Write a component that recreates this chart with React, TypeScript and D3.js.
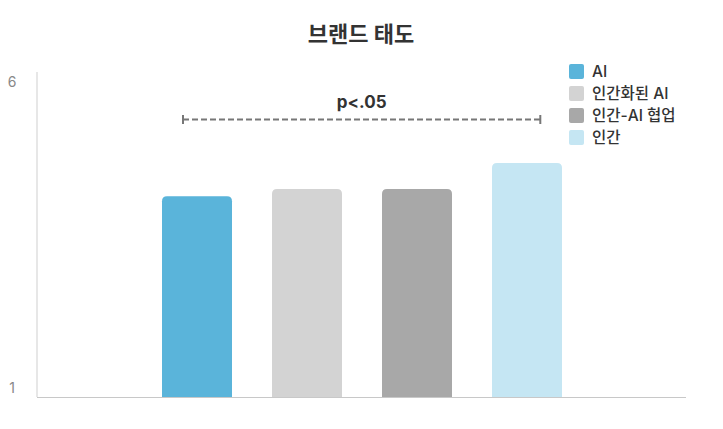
import React, { useEffect, useRef } from 'react';
import * as d3 from 'd3';

const categories = ['AI', '인간화된 AI', '인간-AI 협업', '인간'];
const values = [4.09, 4.2, 4.2, 4.6];
const colors = ['#5ab4da', '#d3d3d3', '#a8a8a8', '#c5e6f3'];
const yTicks = [1, 6];
const title = '브랜드 태도';
const sigLabel = 'p<.05';

const FONT = "Inter, 'Noto Sans CJK KR', 'Noto Sans', sans-serif";

const App: React.FC = () => {
  const svgRef = useRef<SVGSVGElement | null>(null);

  useEffect(() => {
    if (!svgRef.current) return;

    const width = 723;
    const height = 429;

    const svg = d3.select(svgRef.current).attr('width', width).attr('height', height);
    svg.selectAll('*').remove();

    const xScale = d3
      .scaleBand<string>()
      .domain(categories)
      .range([142, 582])
      .paddingInner(4 / 11)
      .paddingOuter(2 / 11);

    const yScale = d3.scaleLinear().domain([1, 6]).range([397, 72]);

    // title
    svg
      .append('text')
      .attr('x', 361)
      .attr('y', 42)
      .attr('text-anchor', 'middle')
      .attr('font-family', FONT)
      .attr('font-size', 22)
      .attr('font-weight', 700)
      .attr('fill', '#333')
      .text(title);

    // axes lines
    svg
      .append('line')
      .attr('x1', 37)
      .attr('x2', 37)
      .attr('y1', yScale(6))
      .attr('y2', yScale(1))
      .attr('stroke', '#cfcfcf')
      .attr('stroke-width', 1);

    svg
      .append('line')
      .attr('x1', 37)
      .attr('x2', 686)
      .attr('y1', yScale(1) + 0.5)
      .attr('y2', yScale(1) + 0.5)
      .attr('stroke', '#c8c8c8')
      .attr('stroke-width', 1);

    // y tick labels
    svg
      .selectAll('text.ytick')
      .data(yTicks)
      .enter()
      .append('text')
      .attr('class', 'ytick')
      .attr('x', 12)
      .attr('y', (d) => (d === 6 ? yScale(d) + 15 : yScale(d) - 4))
      .attr('text-anchor', 'middle')
      .attr('font-family', FONT)
      .attr('font-size', 14)
      .attr('fill', '#888')
      .text((d) => String(d));

    // bars with rounded tops
    const r = 5;
    const bw = xScale.bandwidth();
    svg
      .selectAll('path.bar')
      .data(values)
      .enter()
      .append('path')
      .attr('class', 'bar')
      .attr('fill', (d, i) => colors[i])
      .attr('d', (d, i) => {
        const x0 = xScale(categories[i])!;
        const y0 = yScale(d);
        const yb = yScale(1);
        return `M${x0},${yb}V${y0 + r}Q${x0},${y0} ${x0 + r},${y0}H${x0 + bw - r}Q${x0 + bw},${y0} ${x0 + bw},${y0 + r}V${yb}Z`;
      });

    // significance bracket
    const bx1 = xScale(categories[0])! + bw * 0.3;
    const bx2 = xScale(categories[3])! + bw * 0.69;
    const by = 119.5;
    const g = svg.append('g').attr('stroke', '#777').attr('stroke-width', 2);
    g.append('line')
      .attr('x1', bx1)
      .attr('x2', bx2)
      .attr('y1', by)
      .attr('y2', by)
      .attr('stroke-dasharray', '6,3');
    g.append('line').attr('x1', bx1).attr('x2', bx1).attr('y1', by - 4.5).attr('y2', by + 4.5);
    g.append('line').attr('x1', bx2).attr('x2', bx2).attr('y1', by - 4.5).attr('y2', by + 4.5);

    svg
      .append('text')
      .attr('x', (bx1 + bx2) / 2)
      .attr('y', 108)
      .attr('text-anchor', 'middle')
      .attr('font-family', FONT)
      .attr('font-size', 17)
      .attr('font-weight', 700)
      .attr('fill', '#333')
      .text(sigLabel);

    // legend
    const legend = svg
      .selectAll('g.legend')
      .data(categories)
      .enter()
      .append('g')
      .attr('class', 'legend')
      .attr('transform', (d, i) => `translate(569, ${64 + i * 22})`);

    legend
      .append('rect')
      .attr('width', 15)
      .attr('height', 15)
      .attr('rx', 2)
      .attr('fill', (d, i) => colors[i]);

    legend
      .append('text')
      .attr('x', 23)
      .attr('y', 13)
      .attr('font-family', FONT)
      .attr('font-size', 15.5)
      .attr('font-weight', 500)
      .attr('fill', '#333')
      .text((d) => d);
  }, []);

  return (
    <div style={{ position: 'absolute', left: 0, top: 0 }}>
      <svg ref={svgRef} style={{ display: 'block' }}></svg>
    </div>
  );
};

export default App;
